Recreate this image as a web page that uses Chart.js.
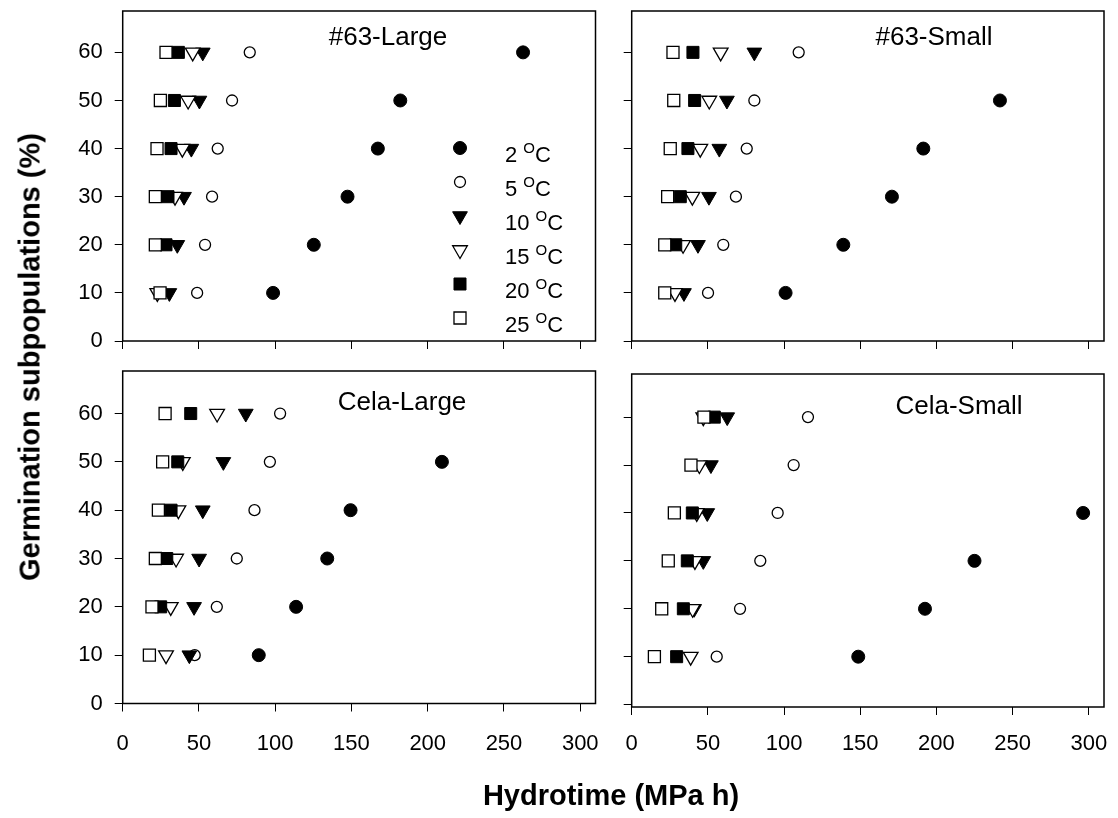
<!DOCTYPE html>
<html>
<head>
<meta charset="utf-8">
<title>Hydrotime</title>
<script src="https://cdn.jsdelivr.net/npm/chart.js@4.4.1/dist/chart.umd.min.js"></script>
<style>
  body { margin: 0; background: #fff; }
  #wrap { position: relative; width: 1118px; height: 818px; font-family: "Liberation Sans", Arial, sans-serif; color: #000; }
  #wrap canvas { position: absolute; left: 0; top: 0; }
  .ytitle { position: absolute; left: 30px; top: 357px; transform: translate(-50%, -50%) rotate(-90deg);
            font-weight: bold; font-size: 29px; line-height: 29px; white-space: nowrap; }
  .xtitle { position: absolute; left: 611px; top: 781px; transform: translateX(-50%);
            font-weight: bold; font-size: 29px; line-height: 29px; white-space: nowrap; }
</style>
</head>
<body>
<div id="wrap">
  <canvas id="c1" width="1118" height="818"></canvas>
  <canvas id="c2" width="1118" height="818"></canvas>
  <canvas id="c3" width="1118" height="818"></canvas>
  <canvas id="c4" width="1118" height="818"></canvas>
  <div class="ytitle">Germination subpopulations (%)</div>
  <div class="xtitle">Hydrotime (MPa h)</div>
</div>
<script>
// germination subpopulations (%) and temperatures
const subpops = [10, 20, 30, 40, 50, 60];
const temps = ['2', '5', '10', '15', '20', '25'];
const xTicks = [0, 50, 100, 150, 200, 250, 300];
const yTicks = [0, 10, 20, 30, 40, 50, 60];

// hydrotime (MPa h), one row per temperature (2,5,10,15,20,25 oC), columns follow subpops
const large63 = [
  [98.6, 125.3, 147.4, 167.3, 182, 262.5],
  [48.8, 54, 58.6, 62.3, 71.7, 83.3],
  [30.6, 35.8, 40.2, 45, 50.3, 52.5],
  [22.7, null, 34.3, 39.1, 42.9, 45.9],
  [null, 28.4, 29.7, 31.7, 33.9, 36.5],
  [24.5, 21.4, 21.4, 22.5, 24.7, 28.4]
];
const small63 = [
  [101, 138.9, 170.8, 191.4, 241.7, null],
  [50.1, 60.1, 68.4, 75.5, 80.5, 109.6],
  [34.3, 43.5, 50.7, 57.5, 62.5, 80.5],
  [28.4, 33.7, 39.8, 45, 50.9, 58.4],
  [null, 28.9, 31.9, 36.9, 41.3, 40.2],
  [21.7, 21.7, 23.6, 25.3, 27.6, 27.1]
];
const celaLarge = [
  [89.2, 113.7, 134.1, 149.4, 209.3, null],
  [47.2, 61.7, 74.8, 86.4, 96.5, 103.2],
  [43.7, 46.8, 50.1, 52.5, 66, 80.7],
  [28.4, 31.5, 35, 36.5, 39.4, 61.9],
  [null, 24.9, 28.9, 31.7, 36.1, 44.6],
  [17.5, 19.2, 21.4, 23.4, 26.2, 27.8]
];
const celaSmall = [
  [148.7, 192.5, 225, 296.3, null, null],
  [55.8, 71.1, 84.4, 95.8, 106.3, 115.7],
  [null, 41, 47, 49.6, 52, 62.7],
  [38.7, 40, 41.5, 42.7, 44.4, 47],
  [29.5, 33.9, 36.5, 39.8, null, 54.2],
  [14.9, 19.7, 24, 28, 38.9, 47.4]
];

const FONT = '"Liberation Sans", Arial, sans-serif';

// symbol for each temperature
const symbols = [
  { pointStyle: 'circle', radius: 6.5, rotation: 0, bg: '#000', bw: 1 },
  { pointStyle: 'circle', radius: 5.5, rotation: 0, bg: '#fff', bw: 1.3 },
  { pointStyle: 'triangle', radius: 8.5, rotation: 180, bg: '#000', bw: 1 },
  { pointStyle: 'triangle', radius: 8.5, rotation: 180, bg: '#fff', bw: 1.3 },
  { pointStyle: 'rect', radius: 8.5, rotation: 0, bg: '#000', bw: 1 },
  { pointStyle: 'rect', radius: 8.5, rotation: 0, bg: '#fff', bw: 1.3 }
];

const panels = [
  { id: 'c1', title: '#63-Large', rows: large63, l: 122.7, r: 595.5, t: 11, b: 341, ymin: 0, ymax: 68.6, xLab: false, yLab: true, tx: 388, ty: 45, legend: true },
  { id: 'c2', title: '#63-Small', rows: small63, l: 631.7, r: 1104, t: 11, b: 341, ymin: 0, ymax: 68.6, xLab: false, yLab: false, tx: 934, ty: 45 },
  { id: 'c3', title: 'Cela-Large', rows: celaLarge, l: 122.7, r: 595.5, t: 371, b: 703.5, ymin: 0, ymax: 68.8, xLab: true, yLab: true, tx: 402, ty: 410, xPad: 19 },
  { id: 'c4', title: 'Cela-Small', rows: celaSmall, l: 631.7, r: 1104, t: 374, b: 707, ymin: -0.5, ymax: 69, xLab: true, yLab: false, tx: 959, ty: 414, xPad: 16 }
];

const AXW = 100, AXH = 60;

const framePlugin = {
  id: 'frame',
  afterDraw(chart, args, opts) {
    const ctx = chart.ctx, a = chart.chartArea;
    ctx.save();
    ctx.strokeStyle = '#000';
    ctx.lineWidth = 1.5;
    ctx.strokeRect(a.left, a.top, a.right - a.left, a.bottom - a.top);
    ctx.fillStyle = '#000';
    ctx.font = '26px ' + FONT;
    ctx.textAlign = 'center';
    ctx.textBaseline = 'alphabetic';
    ctx.fillText(opts.title, opts.tx, opts.ty);
    ctx.restore();
  }
};

const legendPlugin = {
  id: 'tempLegend',
  afterDraw(chart, args, opts) {
    if (!opts.show) return;
    const ctx = chart.ctx;
    ctx.save();
    temps.forEach(function (t, i) {
      const y = 148 + i * 34;
      const s = symbols[i];
      ctx.fillStyle = s.bg;
      ctx.strokeStyle = '#000';
      ctx.lineWidth = s.bw;
      Chart.helpers.drawPoint(ctx, { pointStyle: s.pointStyle, radius: s.radius, rotation: s.rotation, borderWidth: s.bw }, 460, y);
      ctx.fillStyle = '#000';
      ctx.textAlign = 'left';
      ctx.textBaseline = 'alphabetic';
      ctx.font = '22px ' + FONT;
      const head = t + ' ';
      ctx.fillText(head, 505, y + 14);
      let x = 505 + ctx.measureText(head).width;
      ctx.font = '15px ' + FONT;
      ctx.fillText('O', x, y + 5);
      x += ctx.measureText('O').width;
      ctx.font = '22px ' + FONT;
      ctx.fillText('C', x, y + 14);
    });
    ctx.restore();
  }
};

panels.forEach(function (p) {
  const datasets = temps.map(function (t, i) {
    const s = symbols[i];
    const pts = [];
    p.rows[i].forEach(function (v, j) {
      if (v !== null) pts.push({ x: v, y: subpops[j] });
    });
    return {
      label: t + ' oC',
      data: pts,
      order: temps.length - 1 - i, // later temperatures drawn on top
      pointStyle: s.pointStyle,
      pointRadius: s.radius,
      pointRotation: s.rotation,
      pointBackgroundColor: s.bg,
      pointBorderColor: '#000',
      pointBorderWidth: s.bw,
      showLine: false
    };
  });

  new Chart(document.getElementById(p.id), {
    type: 'scatter',
    data: { datasets: datasets },
    plugins: [framePlugin, legendPlugin],
    options: {
      responsive: false,
      animation: false,
      events: [],
      clip: false,
      layout: {
        padding: { left: p.l - AXW, right: 1118 - p.r, top: p.t, bottom: 818 - p.b - AXH }
      },
      plugins: {
        legend: { display: false },
        tooltip: { enabled: false },
        frame: { title: p.title, tx: p.tx, ty: p.ty },
        tempLegend: { show: !!p.legend }
      },
      scales: {
        x: {
          type: 'linear',
          min: 0,
          max: 310,
          afterBuildTicks: function (sc) { sc.ticks = xTicks.map(function (v) { return { value: v }; }); },
          afterFit: function (sc) { sc.height = AXH; sc.paddingLeft = 0; sc.paddingRight = 0; },
          border: { display: false },
          grid: { drawOnChartArea: false, drawTicks: true, tickLength: 8, color: '#000', lineWidth: 1 },
          ticks: {
            display: p.xLab,
            maxRotation: 0,
            autoSkip: false,
            padding: p.xPad || 19,
            color: '#000',
            font: { family: FONT, size: 22 }
          }
        },
        y: {
          type: 'linear',
          min: p.ymin,
          max: p.ymax,
          afterBuildTicks: function (sc) { sc.ticks = yTicks.map(function (v) { return { value: v }; }); },
          afterFit: function (sc) { sc.width = AXW; sc.paddingTop = 0; sc.paddingBottom = 0; },
          border: { display: false },
          grid: { drawOnChartArea: false, drawTicks: true, tickLength: 8, color: '#000', lineWidth: 1 },
          ticks: {
            display: p.yLab,
            autoSkip: false,
            padding: 12,
            color: '#000',
            font: { family: FONT, size: 22 }
          }
        }
      }
    }
  });
});
</script>
</body>
</html>
